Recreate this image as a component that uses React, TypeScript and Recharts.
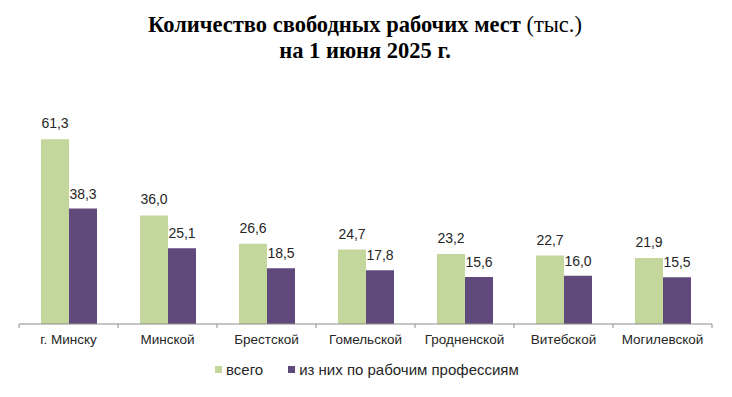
import React from 'react';
import { BarChart, Bar, XAxis, YAxis, LabelList } from 'recharts';

const categories = ['г. Минску', 'Минской', 'Брестской', 'Гомельской', 'Гродненской', 'Витебской', 'Могилевской'];
const totalValues = [61.3, 36.0, 26.6, 24.7, 23.2, 22.7, 21.9];
const workerValues = [38.3, 25.1, 18.5, 17.8, 15.6, 16.0, 15.5];
const seriesNames = ['всего', 'из них по рабочим профессиям'];
const colors = ['#C3D69B', '#604A7B'];

const data = categories.map((name, i) => ({ name, total: totalValues[i], workers: workerValues[i] }));

const fmt = (v: any) => Number(v).toFixed(1).replace('.', ',');

const Tick = (props: any) => {
  const { x, y, payload, index } = props;
  const off = payload && typeof payload.offset === 'number' ? payload.offset : 49.5;
  return (
    <g>
      <line x1={x - off} x2={x - off} y1={y} y2={y + 4} stroke="#8C8C8C" strokeWidth={1} />
      {index === categories.length - 1 && (
        <line x1={x + off} x2={x + off} y1={y} y2={y + 4} stroke="#8C8C8C" strokeWidth={1} />
      )}
      <text x={x} y={y + 20} textAnchor="middle" fontFamily="'Liberation Sans', Arial, sans-serif" fontSize={13.5} fill="#262626">
        {payload.value}
      </text>
    </g>
  );
};

export default function App() {
  return (
    <div style={{ position: 'absolute', left: 0, top: 0, width: 732, height: 397, background: '#fff' }}>
      <div
        style={{
          position: 'absolute',
          left: 0,
          top: 12,
          width: 730,
          textAlign: 'center',
          fontFamily: "'Liberation Serif', 'Times New Roman', serif",
          fontSize: 22.5,
          lineHeight: '26px',
          color: '#000',
        }}
      >
        <div>
          <b>Количество свободных рабочих мест</b> (тыс.)
        </div>
        <div>
          <b>на 1 июня 2025 г.</b>
        </div>
      </div>
      <div style={{ position: 'absolute', left: 0, top: 0 }}>
        <BarChart
          width={732}
          height={397}
          data={data}
          margin={{ top: 113, right: 20, left: 19, bottom: 0 }}
          barCategoryGap={21.5}
          barGap={0}
        >
          <YAxis hide domain={[0, 70]} />
          <XAxis
            dataKey="name"
            height={73}
            tickLine={false}
            tickSize={0}
            tickMargin={0}
            axisLine={{ stroke: '#8C8C8C' }}
            interval={0}
            tick={<Tick />}
          />
          <Bar dataKey="total" name={seriesNames[0]} fill={colors[0]} barSize={28} isAnimationActive={false}>
            <LabelList dataKey="total" position="top" offset={11} formatter={fmt} fontFamily="'Liberation Sans', Arial, sans-serif" fontSize={14} fill="#262626" />
          </Bar>
          <Bar dataKey="workers" name={seriesNames[1]} fill={colors[1]} barSize={28} isAnimationActive={false}>
            <LabelList dataKey="workers" position="top" offset={10} formatter={fmt} fontFamily="'Liberation Sans', Arial, sans-serif" fontSize={14} fill="#262626" />
          </Bar>
        </BarChart>
      </div>
      <div
        style={{
          position: 'absolute',
          left: 215,
          top: 361,
          display: 'flex',
          alignItems: 'center',
          fontFamily: "'Liberation Sans', Arial, sans-serif",
          fontSize: 15,
          color: '#262626',
          whiteSpace: 'nowrap',
        }}
      >
        {seriesNames.map((n, i) => (
          <div key={n} style={{ display: 'flex', alignItems: 'center', marginRight: i === 0 ? 25 : 0 }}>
            <span style={{ display: 'inline-block', width: 7, height: 7, background: colors[i], marginRight: 4 }} />
            <span>{n}</span>
          </div>
        ))}
      </div>
    </div>
  );
}
